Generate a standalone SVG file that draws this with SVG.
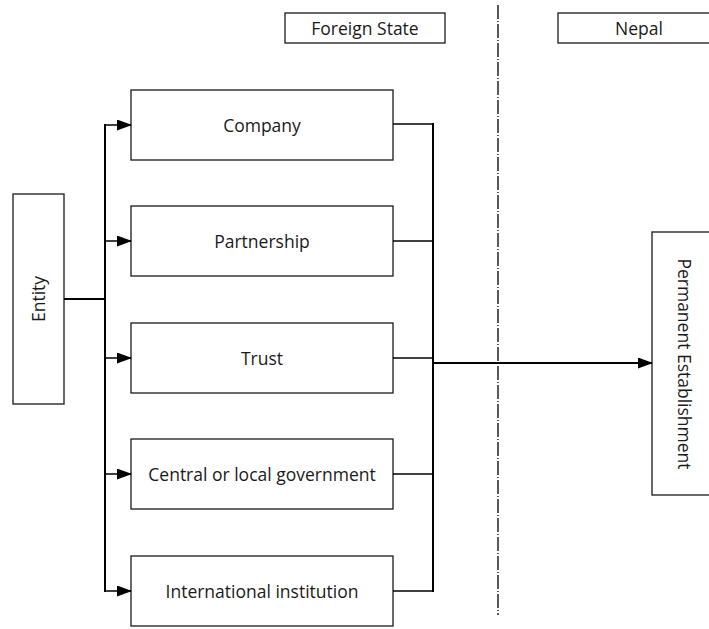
<svg xmlns="http://www.w3.org/2000/svg" width="709" height="629" viewBox="0 0 709 629">
<defs>
<style>
.box{fill:#fff;stroke:#1a1a1a;stroke-width:1.3}
.t{font-family:"Open Sans","DejaVu Sans",sans-serif;font-size:17.5px;fill:#1a1a1a;text-anchor:middle;dominant-baseline:central}
.bus{fill:none;stroke:#000;stroke-width:2}
.ln{fill:none;stroke:#000;stroke-width:1.5}
</style>
<marker id="ah" markerWidth="15" markerHeight="11" refX="14" refY="5.5" orient="auto" markerUnits="userSpaceOnUse">
<path d="M0,0 L15,5.5 L0,11 Z" fill="#000"/>
</marker>
</defs>
<rect width="709" height="629" fill="#fff"/>
<g id="header-foreign"><rect class="box" x="285" y="13" width="160" height="30"/><text class="t" x="365" y="28">Foreign State</text></g>
<g id="header-nepal"><rect class="box" x="558" y="13" width="170" height="30"/><text class="t" x="639" y="28">Nepal</text></g>
<g id="divider"><line x1="498" y1="5" x2="498" y2="615" stroke="#000" stroke-width="1.3" stroke-dasharray="14,2,1,2"/></g>
<g id="entity"><rect class="box" x="13" y="194" width="51" height="210"/><text class="t" transform="translate(38,299) rotate(-90)">Entity</text></g>
<g id="company"><rect class="box" x="131" y="90" width="262" height="70"/><text class="t" x="262" y="125">Company</text></g>
<g id="partnership"><rect class="box" x="131" y="206" width="262" height="70"/><text class="t" x="262" y="241">Partnership</text></g>
<g id="trust"><rect class="box" x="131" y="323" width="262" height="70"/><text class="t" x="262" y="358">Trust</text></g>
<g id="government"><rect class="box" x="131" y="439" width="262" height="70"/><text class="t" x="262" y="474">Central or local government</text></g>
<g id="international"><rect class="box" x="131" y="556" width="262" height="70"/><text class="t" x="262" y="591">International institution</text></g>
<g id="pe"><rect class="box" x="652" y="232" width="80" height="263"/><text class="t" transform="translate(685,364) rotate(90)">Permanent Establishment</text></g>
<g id="connectors">
<line class="bus" x1="64" y1="299" x2="105" y2="299"/>
<line class="bus" x1="105" y1="124" x2="105" y2="592"/>
<line class="ln" x1="105" y1="125" x2="131" y2="125" marker-end="url(#ah)"/>
<line class="ln" x1="105" y1="241" x2="131" y2="241" marker-end="url(#ah)"/>
<line class="ln" x1="105" y1="358" x2="131" y2="358" marker-end="url(#ah)"/>
<line class="ln" x1="105" y1="474" x2="131" y2="474" marker-end="url(#ah)"/>
<line class="ln" x1="105" y1="591" x2="131" y2="591" marker-end="url(#ah)"/>
<line class="ln" x1="393" y1="124" x2="433" y2="124"/>
<line class="ln" x1="393" y1="241" x2="433" y2="241"/>
<line class="ln" x1="393" y1="358" x2="433" y2="358"/>
<line class="ln" x1="393" y1="474" x2="433" y2="474"/>
<line class="ln" x1="393" y1="591" x2="433" y2="591"/>
<line class="bus" x1="433" y1="123" x2="433" y2="592"/>
<line class="bus" x1="433" y1="363" x2="652" y2="363" marker-end="url(#ah)"/>
</g>
</svg>
